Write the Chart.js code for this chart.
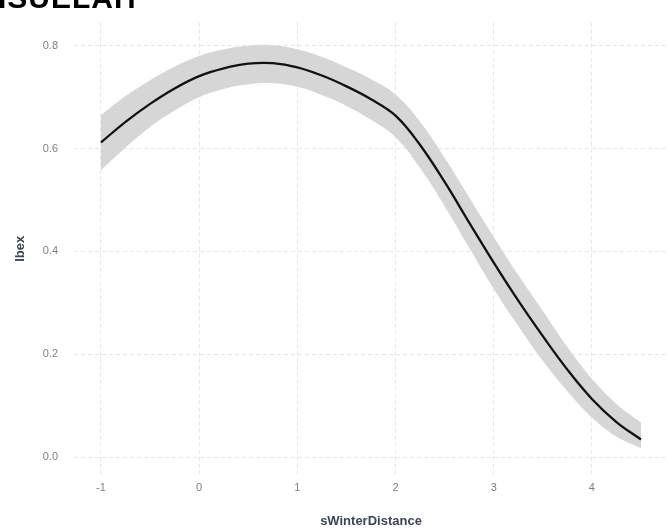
<!DOCTYPE html>
<html>
<head>
<meta charset="utf-8">
<script src="https://cdn.jsdelivr.net/npm/chart.js@4"></script>
<style>
  body { margin: 0; background: #fff; overflow: hidden; }
  #wrap { position: relative; width: 669px; height: 529px; overflow: hidden; }
  #topTitle {
    position: absolute; left: -2px; top: -19px;
    font: bold 30px "Liberation Sans", Arial, sans-serif;
    color: #000; letter-spacing: 1px; white-space: nowrap;
  }
  canvas { position: absolute; left: 0; top: 0; }
</style>
</head>
<body>
<div id="wrap">
  <canvas id="chart" width="669" height="529"></canvas>
  <div id="topTitle">ISUELAH</div>
</div>
<script>
// Valeurs
const xValues = [-1, -0.75, -0.5, -0.25, 0, 0.25, 0.5, 0.75, 1, 1.25, 1.5, 1.75, 2, 2.25, 2.5, 2.75, 3, 3.25, 3.5, 3.75, 4, 4.25, 4.5];
const meanValues = [0.612, 0.652, 0.687, 0.717, 0.741, 0.756, 0.765, 0.766, 0.758, 0.742, 0.721, 0.696, 0.664, 0.607, 0.535, 0.456, 0.378, 0.304, 0.235, 0.170, 0.113, 0.068, 0.034];
const lowerValues = [0.558, 0.602, 0.642, 0.674, 0.700, 0.716, 0.725, 0.727, 0.720, 0.704, 0.683, 0.656, 0.622, 0.562, 0.488, 0.407, 0.327, 0.255, 0.187, 0.128, 0.077, 0.040, 0.017];
const upperValues = [0.665, 0.702, 0.733, 0.759, 0.780, 0.793, 0.800, 0.801, 0.793, 0.778, 0.758, 0.735, 0.705, 0.652, 0.582, 0.505, 0.428, 0.354, 0.284, 0.214, 0.152, 0.103, 0.067];
const xTicks = [-1, 0, 1, 2, 3, 4];
const yTicks = [0, 0.2, 0.4, 0.6, 0.8];

const toPoints = (ys) => xValues.map((x, i) => ({ x: x, y: ys[i] }));

const tickFont = { family: '"Liberation Sans", Arial, sans-serif', size: 11 };
const titleFont = { family: '"Liberation Sans", Arial, sans-serif', size: 13, weight: 'bold' };

// la courbe en premier : Chart.js dessine le dataset 0 au-dessus
new Chart(document.getElementById('chart').getContext('2d'), {
  type: 'line',
  data: {
    datasets: [
      {
        label: 'Ibex',
        data: toPoints(meanValues),
        borderColor: '#111',
        borderWidth: 2.3,
        pointRadius: 0,
        fill: false,
        tension: 0.4
      },
      {
        label: 'upper',
        data: toPoints(upperValues),
        borderWidth: 0,
        pointRadius: 0,
        backgroundColor: '#d6d6d6',
        fill: '+1',
        tension: 0.4
      },
      {
        label: 'lower',
        data: toPoints(lowerValues),
        borderWidth: 0,
        pointRadius: 0,
        fill: false,
        tension: 0.4
      }
    ]
  },
  options: {
    responsive: false,
    animation: false,
    events: [],
    layout: { padding: { top: 3, right: 1, left: 0, bottom: 0 } },
    plugins: { legend: { display: false }, tooltip: { enabled: false } },
    scales: {
      x: {
        type: 'linear',
        min: -1.275,
        max: 4.775,
        afterBuildTicks: (scale) => { scale.ticks = xTicks.map(v => ({ value: v })); },
        afterFit: (scale) => { scale.height = 54; },
        ticks: { color: '#7f7f7f', font: tickFont, padding: 6 },
        grid: { color: '#e6e6e6', lineWidth: 1, drawTicks: false },
        border: { display: false, dash: [4, 3] },
        title: { display: true, text: 'sWinterDistance', color: '#3b4658', font: titleFont, padding: { top: 4, bottom: 0 } }
      },
      y: {
        min: -0.035,
        max: 0.845,
        afterBuildTicks: (scale) => { scale.ticks = yTicks.map(v => ({ value: v })); },
        afterFit: (scale) => { scale.width = 74; },
        ticks: { color: '#7f7f7f', font: tickFont, padding: 16, callback: (v) => v.toFixed(1) },
        grid: { color: '#e6e6e6', lineWidth: 1, drawTicks: false },
        border: { display: false, dash: [4, 3] },
        title: { display: true, text: 'Ibex', color: '#3b4658', font: titleFont, padding: { top: 13, bottom: 0 } }
      }
    }
  }
});
</script>
</body>
</html>
